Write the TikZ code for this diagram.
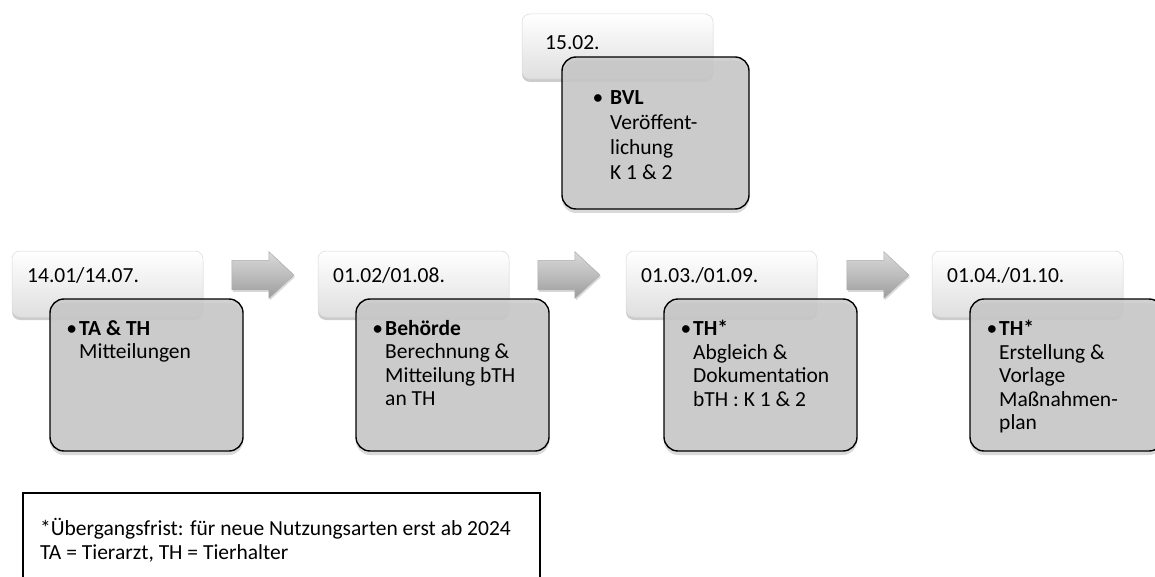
\documentclass[tikz,border=0pt]{standalone}
\usepackage{fontspec}
\setmainfont{Carlito}
\usetikzlibrary{shadows,shapes.arrows}
\tikzset{
  datebox/.style={rounded corners=8pt, top color=white, bottom color=gray!25, draw=gray!30, line width=0.5pt,
    drop shadow={opacity=0.4, shadow xshift=0pt, shadow yshift=-3pt}},
  graybox/.style={rounded corners=14pt, fill=gray!42, fill opacity=0.85, draw=black, line width=1.4pt,
    drop shadow={opacity=0.3, shadow xshift=0pt, shadow yshift=-4pt}},
  datetext/.style={anchor=base west, inner sep=0pt, font=\fontsize{21.5}{24}\selectfont},
  bodytext/.style={anchor=north west, inner sep=0pt, align=left, font=\fontsize{21.5}{23.5}\selectfont},
  stepArrow/.style={single arrow, shading=axis, top color=gray!30, bottom color=gray!78, middle color=gray!52,
    draw=gray!65, line width=0.5pt, minimum height=62pt, inner xsep=0pt, inner ysep=14.5pt,
    single arrow head extend=8.5pt, single arrow tip angle=86,
    drop shadow={opacity=0.3, shadow xshift=1pt, shadow yshift=-2pt}},
}
\newcommand{\bul}[1]{\llap{\textbullet\hspace{#1}}}
\begin{document}
\begin{tikzpicture}[x=1pt,y=-1pt]
\useasboundingbox (0,0) rectangle (1155,577);
% top
\path[datebox] (522,14) rectangle (713,79) node[pos=0,inner sep=0] (d0) {};
\node[datetext] (t0) at (545,50) {15.02.};
\path[graybox] (562,57) rectangle (749,209) node[pos=0,inner sep=0] (g0) {};
\node[bodytext, font=\fontsize{21.5}{25}\selectfont] (b0) at (610,90) {\bul{7pt}\textbf{BVL}\\Veröffent-\\lichung\\K 1 \& 2};
% columns
\foreach \i/\x/\dt/\bt in {1/12/{14.01/14.07.}/{\bul{2pt}\textbf{TA \& TH}\\Mitteilungen},
  2/318/{01.02/01.08.}/{\bul{2pt}\textbf{Behörde}\\Berechnung \&\\Mitteilung bTH\\an TH},
  3/626/{01.03./01.09.}/{\bul{2pt}\textbf{TH*}\\Abgleich \&\\Dokumentation\\bTH : K 1 \& 2},
  4/932/{01.04./01.10.}/{\bul{2pt}\textbf{TH*}\\Erstellung \&\\Vorlage\\Maßnahmen-\\plan}}{
  \path[datebox] (\x,251) rectangle ({\x+191},317) node[pos=0,inner sep=0] (d\i) {};
  \node[datetext] (t\i) at ({\x+15},282) {\dt};
  \path[graybox] ({\x+38},299) rectangle ({\x+231},451) node[pos=0,inner sep=0] (g\i) {};
  \node[bodytext] (b\i) at ({\x+67},320) {\bt};
}
\node[stepArrow] (a1) at (255,275) {};
\node[stepArrow] (a2) at (561,275) {};
\node[stepArrow] (a3) at (870,275) {};
% note
\draw[line width=1.2pt] (23,580) -- (23,493) -- (540,493) -- (540,580);
\node[anchor=north west, inner sep=0pt, align=left, font=\fontsize{21.5}{24}\selectfont] (note) at (40,518)
  {*Übergangsfrist: für neue Nutzungsarten erst ab 2024\\TA = Tierarzt, TH = Tierhalter};
\end{tikzpicture}
\end{document}
